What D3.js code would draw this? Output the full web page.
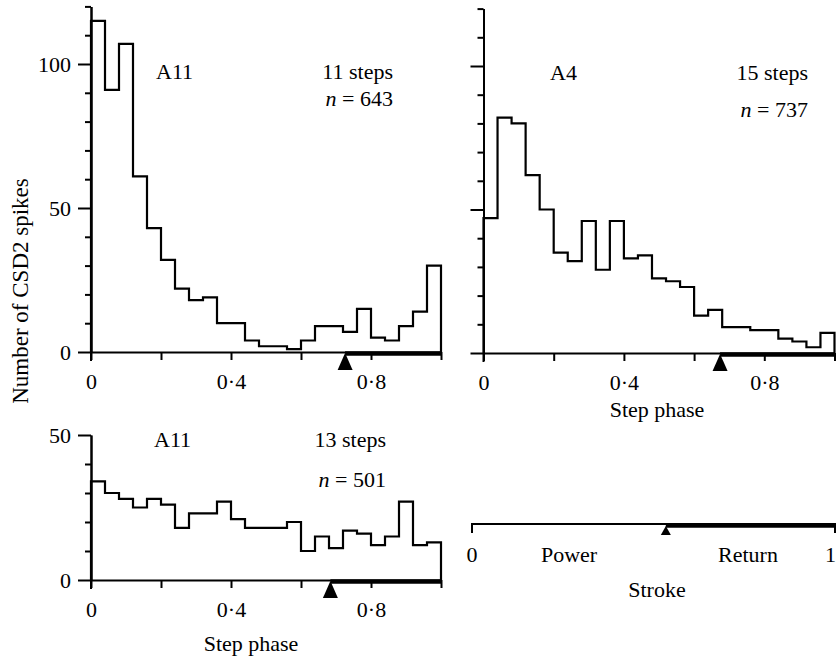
<!DOCTYPE html>
<html><head><meta charset="utf-8">
<script src="https://cdn.jsdelivr.net/npm/d3@7"></script>
<style>
body{margin:0;background:#fff}
svg{display:block}
text{font-family:"Liberation Serif","DejaVu Serif",serif;fill:#000}
</style>
</head><body><svg id="c" width="838" height="660"></svg>
<script>
// ---- data ----
const binStarts = [0,0.04,0.08,0.12,0.16,0.2,0.24,0.28,0.32,0.36,0.4,0.44,0.48,0.52,0.56,0.6,0.64,0.68,0.72,0.76,0.8,0.84,0.88,0.92,0.96];
const binWidth = 0.04;
const countsA11a = [115,91,107,61,43,32,22,18,19,10,10,4,2,2,1,4,9,9,7,15,5,4,9,14,30];
const countsA4   = [47,82,80,62,50,35,32,46,29,46,33,34,26,25,23,13,15,9,9,8,8,5,4,2,7];
const countsA11b = [34,30,28,25,28,26,18,23,23,27,21,18,18,18,20,10,15,11,17,16,12,15,27,12,13];
const panelNames = ["A11","A4","A11"];
const panelSteps = ["11 steps","15 steps","13 steps"];
const panelN = ["643","737","501"];
const stanceOnset = [0.726,0.674,0.684];
const phaseTicks = [0,0.2,0.4,0.6,0.8,1];
const phaseLabels = [0,0.4,0.8];
const legendOnset = 0.534;
const legendLabels = ["0","Power","Return","1"];

const svg = d3.select("#c");
const FS = 22;
const fmt = d => d === 0 ? "0" : (phaseLabels.includes(d) ? d3.format(".1f")(d).replace(".", "\u00b7") : "");

function drawPanel(o){
  const x = d3.scaleLinear().domain([0,1]).range([o.x0, o.x1]);
  const y = d3.scaleLinear().domain([0,o.yMax]).range([o.yZero, o.yZero - o.yMax*o.ppu]);
  const g = svg.append("g");

  const minor = d3.range(0, o.yMax+1, 10).filter(v => v % 50 !== 0);
  const major = d3.range(0, o.yMax+1, 50);
  const ya = g.append("g").attr("transform",`translate(${o.x0},0)`)
    .call(d3.axisLeft(y).tickValues(minor).tickSize(6).tickSizeOuter(0).tickFormat(""));
  const yb = g.append("g").attr("transform",`translate(${o.x0},0)`)
    .call(d3.axisLeft(y).tickValues(major).tickSize(13).tickSizeOuter(0).tickPadding(7)
      .tickFormat(o.yLabels ? d3.format("d") : ""));
  [ya,yb].forEach(a=>{
    a.selectAll("path.domain").attr("stroke","#000").attr("stroke-width",2);
    a.selectAll(".tick line").attr("stroke","#000").attr("stroke-width",2);
    a.selectAll("text").attr("font-size",FS).attr("font-family","Liberation Serif").attr("fill","#000");
  });
  g.append("line").attr("x1",o.x0).attr("x2",o.x0).attr("y1",y(0)).attr("y2",y(0)+9)
    .attr("stroke","#000").attr("stroke-width",2);

  const xa = g.append("g").attr("transform",`translate(0,${y(0)})`)
    .call(d3.axisBottom(x).tickValues(phaseTicks).tickSize(8).tickSizeOuter(0).tickPadding(13).tickFormat(fmt));
  xa.selectAll("path.domain").attr("stroke","#000").attr("stroke-width",2);
  xa.selectAll(".tick line").attr("stroke","#000").attr("stroke-width",2);
  xa.selectAll("text").attr("font-size",FS).attr("font-family","Liberation Serif").attr("fill","#000");

  g.append("line").attr("x1",x(o.onset)).attr("x2",x(1)).attr("y1",y(0)+1.5).attr("y2",y(0)+1.5)
    .attr("stroke","#000").attr("stroke-width",4.5);
  const tp = d3.path();
  tp.moveTo(x(o.onset), y(0)+1);
  tp.lineTo(x(o.onset)+7.5, y(0)+18);
  tp.lineTo(x(o.onset)-7.5, y(0)+18);
  tp.closePath();
  g.append("path").attr("d",tp.toString()).attr("fill","#000");

  const pts = [[0,0]].concat(binStarts.map((b,i)=>[b,o.counts[i]]))
    .concat([[binStarts[binStarts.length-1]+binWidth, o.counts[o.counts.length-1]],[1,0]]);
  const line = d3.line().x(d=>x(d[0])).y(d=>y(d[1])).curve(d3.curveStepAfter);
  g.append("path").attr("d",line(pts)).attr("fill","none").attr("stroke","#000")
    .attr("stroke-width",2.2).attr("stroke-linejoin","miter");

  g.append("text").attr("x",o.nameX).attr("y",o.nameY).attr("font-size",FS).text(o.name);
  g.append("text").attr("x",o.rightX).attr("y",o.nameY).attr("text-anchor","end").attr("font-size",FS).text(o.steps);
  const t = g.append("text").attr("x",o.rightX).attr("y",o.nY).attr("text-anchor","end").attr("font-size",FS);
  t.append("tspan").attr("font-style","italic").text("n");
  t.append("tspan").text(" = " + o.n);

  if (o.xTitle) {
    g.append("text").attr("x",o.xTitleX).attr("y",o.xTitleY).attr("text-anchor","middle")
      .attr("font-size",FS).text("Step phase");
  }
}

drawPanel({counts:countsA11a, name:panelNames[0], steps:panelSteps[0], n:panelN[0], onset:stanceOnset[0],
  x0:91, x1:441, yZero:352, ppu:2.88, yMax:120, yLabels:true,
  nameX:156, nameY:79, rightX:393, nY:106, xTitle:false});
drawPanel({counts:countsA4, name:panelNames[1], steps:panelSteps[1], n:panelN[1], onset:stanceOnset[1],
  x0:483.5, x1:834.5, yZero:353, ppu:2.87, yMax:120, yLabels:false,
  nameX:550, nameY:80, rightX:808, nY:117, xTitle:true, xTitleX:657, xTitleY:417});
drawPanel({counts:countsA11b, name:panelNames[2], steps:panelSteps[2], n:panelN[2], onset:stanceOnset[2],
  x0:91, x1:441, yZero:580, ppu:2.9, yMax:50, yLabels:true,
  nameX:154, nameY:447, rightX:386, nY:487, xTitle:true, xTitleX:251, xTitleY:651});

svg.append("text").attr("transform","translate(28,291) rotate(-90)").attr("text-anchor","middle")
  .attr("font-size",23).text("Number of CSD2 spikes");

const xl = d3.scaleLinear().domain([0,1]).range([472,835]);
const lg = svg.append("g");
const ly = 524;
lg.append("path").attr("d",`M${xl(0)},${ly+9}V${ly}H${xl(1)}V${ly+9}`).attr("fill","none")
  .attr("stroke","#000").attr("stroke-width",2);
lg.append("line").attr("x1",xl(legendOnset)).attr("x2",xl(1)).attr("y1",ly+1.5).attr("y2",ly+1.5)
  .attr("stroke","#000").attr("stroke-width",4.5);
const lp = d3.path();
lp.moveTo(xl(legendOnset), ly+2); lp.lineTo(xl(legendOnset)+5, ly+11); lp.lineTo(xl(legendOnset)-5, ly+11); lp.closePath();
lg.append("path").attr("d",lp.toString()).attr("fill","#000");
lg.append("text").attr("x",xl(0)).attr("y",562).attr("text-anchor","middle").attr("font-size",FS).text(legendLabels[0]);
lg.append("text").attr("x",569).attr("y",562).attr("text-anchor","middle").attr("font-size",FS).text(legendLabels[1]);
lg.append("text").attr("x",748).attr("y",562).attr("text-anchor","middle").attr("font-size",FS).text(legendLabels[2]);
lg.append("text").attr("x",836).attr("y",562).attr("text-anchor","end").attr("font-size",FS).text(legendLabels[3]);
lg.append("text").attr("x",657).attr("y",597).attr("text-anchor","middle").attr("font-size",FS).text("Stroke");
</script>
</body></html>
